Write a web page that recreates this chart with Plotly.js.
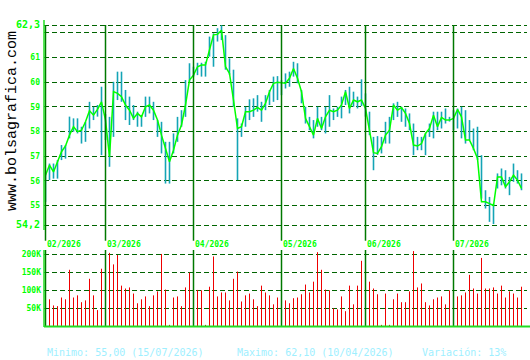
<!DOCTYPE html>
<html>
<head>
<meta charset="utf-8">
<script src="https://cdn.plot.ly/plotly-3.0.1.min.js"></script>
<style>html,body{margin:0;padding:0;background:#fff;}#chart{width:530px;height:360px;}</style>
</head>
<body>
<div id="chart"></div>
<script>
// ---- data (one entry per trading day, index 0 = first session shown) ----
var closes = [
 56.23,56.64,56.36,56.77,57.18,57.41,57.85,58.19,57.99,58.05,
 58.39,58.84,58.66,58.89,59.20,58.46,56.97,59.61,59.54,59.41,
 59.07,58.86,58.53,58.73,58.59,59.00,59.07,58.86,58.46,57.85,
 57.31,56.77,57.24,57.85,58.26,59.07,60.08,60.28,60.62,60.69,
 60.69,61.30,61.91,61.93,62.10,60.62,60.35,59.27,58.12,58.19,
 58.80,58.80,58.86,58.97,58.86,59.14,59.61,59.95,59.99,59.97,
 59.95,60.15,60.55,60.15,59.61,58.53,58.19,57.85,58.53,58.12,
 58.59,58.86,58.80,58.86,59.07,59.61,58.93,59.27,59.20,59.27,
 58.93,58.05,57.14,57.11,57.38,57.85,58.05,59.07,58.86,58.97,
 58.73,58.32,57.45,57.41,57.51,57.92,58.12,58.66,58.19,58.57,
 58.46,58.46,58.53,58.89,58.59,57.65,57.65,57.31,56.91,55.15,
 55.15,55.08,55.00,56.16,56.16,55.76,55.96,56.23,56.03,55.69
];
var highs = [
 56.35,56.70,56.70,56.84,57.45,57.45,58.60,58.53,58.53,58.19,
 58.39,59.20,59.00,59.07,59.81,58.70,58.59,60.01,60.42,60.42,
 59.68,59.41,59.07,58.80,58.66,59.41,59.41,59.20,58.46,58.39,
 57.58,57.58,57.92,58.59,58.86,60.08,60.76,60.62,60.78,60.78,
 60.82,61.84,61.97,62.18,62.30,61.90,60.96,60.50,58.53,58.32,
 59.00,59.30,59.34,59.47,59.20,59.47,59.68,60.22,60.24,60.08,
 60.35,60.42,60.82,60.76,59.68,59.00,58.59,58.46,59.00,58.59,
 59.00,59.47,58.93,59.00,59.41,59.68,59.81,59.61,59.41,60.11,
 59.54,58.80,57.78,57.81,57.78,58.39,58.59,59.14,59.20,59.00,
 58.93,58.73,58.32,57.78,57.78,57.92,58.32,58.80,58.80,58.80,
 58.93,58.59,58.86,58.93,59.00,58.86,58.46,58.12,58.19,57.04,
 55.62,55.35,55.08,56.30,56.50,56.43,56.16,56.70,56.43,56.30
];
var lows = [
 55.15,56.03,56.09,56.09,56.84,56.90,57.72,57.99,57.92,57.51,
 57.58,58.12,58.46,58.60,57.04,57.65,56.57,57.78,59.27,59.20,
 58.46,58.26,58.46,58.19,58.19,58.59,58.73,58.46,57.78,57.11,
 55.89,55.89,57.11,57.58,58.19,58.59,60.01,60.22,60.28,60.22,
 60.22,61.03,60.62,61.64,61.70,60.50,60.30,59.00,56.03,57.78,
 58.19,58.46,58.59,58.80,58.39,58.86,59.07,59.20,59.27,59.47,
 59.74,59.81,60.22,59.95,59.14,58.32,58.05,57.72,58.19,58.05,
 57.92,58.19,58.46,58.59,58.53,59.07,58.73,59.00,58.93,59.03,
 58.60,57.85,56.43,57.05,57.11,57.51,57.51,58.46,58.59,58.39,
 58.19,58.05,57.04,57.24,57.24,57.04,57.78,57.72,58.05,58.12,
 58.32,58.40,58.05,58.12,57.72,57.51,57.65,57.24,56.85,55.28,
 54.88,54.34,54.25,55.69,55.82,55.69,55.42,55.96,55.89,55.62
];
var volumes = [
 69000,75000,58000,56000,80000,75000,157000,80000,86000,67000,
 72000,132000,86000,45000,160000,95000,204000,172000,198000,113000,
 105000,108000,91000,64000,75000,83000,56000,86000,97000,201000,
 102000,4000,80000,83000,56000,108000,149000,69000,101000,100000,
 4000,110000,194000,83000,94000,94000,72000,132000,152000,69000,
 86000,91000,75000,56000,113000,94000,86000,61000,80000,79000,
 72000,64000,78000,80000,89000,116000,94000,124000,206000,157000,
 102000,100000,50000,47000,83000,42000,113000,61000,113000,182000,
 100000,124000,105000,89000,4000,91000,4000,75000,91000,67000,
 67000,97000,209000,108000,119000,67000,58000,75000,80000,83000,
 61000,100000,119000,83000,86000,94000,143000,105000,91000,190000,
 105000,105000,108000,91000,113000,80000,97000,91000,80000,110000
];
var monthLabels = ["02/2026","03/2026","04/2026","05/2026","06/2026","07/2026"];
var monthStarts = [0,15,37,59,80,102];
var priceTicks = [54.2,55,56,57,58,59,60,61,62,62.3];
var priceTickText = ['<span style="font-size:10px">54,2</span>','55','56','57','58','59','60','61','','<span style="font-size:10px">62,3</span>'];
var volTicks = [50000,100000,150000,200000];
var volTickText = ["50K","100K","150K","200K"];
var footer = ["Minimo: 55,00 (15/07/2026)","Maximo: 62,10 (10/04/2026)","Variación: 13%"];
var siteTitle = "www.bolsagrafica.com";

// ---- build: vertical segments (x,x,null) for range bars and volume bars ----
var segX = [], hlY = [], volY = [];
closes.forEach(function(_, i){
  segX.push(i, i, null);
  hlY.push(lows[i], highs[i], null);
  volY.push(0, volumes[i], null);
});
var idx = closes.map(function(_, i){ return i; });

var W = 530, H = 360, L = 44, R = 3;
function py(pix){ return 1 - pix / H; }
function px(pix){ return (pix - L) / (W - L - R); }

var traces = [
  {type:'scatter', mode:'lines', x:segX, y:hlY, xaxis:'x', yaxis:'y', connectgaps:false,
   line:{color:'#14a4b6', width:1.6}, hoverinfo:'skip'},
  {type:'scatter', mode:'lines', x:idx, y:closes, xaxis:'x', yaxis:'y',
   line:{color:'#00ff00', width:1.5}, hoverinfo:'skip'},
  {type:'scatter', mode:'lines', x:segX, y:volY, xaxis:'x', yaxis:'y2', connectgaps:false,
   line:{color:'#ee0000', width:1}, hoverinfo:'skip'}
];

var green = '#00ff00', dark = '#006400';
var shapes = [];
monthStarts.forEach(function(m){
  shapes.push({type:'line', xref:'x', yref:'paper', x0:m, x1:m, y0:py(240.7), y1:py(25),
               line:{color:'#007800', width:1.5}, layer:'above'});
  shapes.push({type:'line', xref:'x', yref:'paper', x0:m, x1:m, y0:py(326), y1:py(250),
               line:{color:'#007800', width:1.5}, layer:'above'});
});
shapes.push({type:'line', xref:'paper', yref:'paper', x0:0, x1:0, y0:py(230), y1:py(20),
             line:{color:'#22dd22', width:1.5}});
shapes.push({type:'line', xref:'paper', yref:'paper', x0:0, x1:0, y0:py(327), y1:py(250),
             line:{color:'#22dd22', width:1.5}});
shapes.push({type:'line', xref:'paper', yref:'paper', x0:0, x1:px(530), y0:py(326.5), y1:py(326.5),
             line:{color:'#22dd22', width:2}});

var annotations = [];
monthStarts.forEach(function(m, k){
  annotations.push({xref:'x', yref:'paper', x:m, y:py(244), xanchor:'left', yanchor:'middle',
    xshift:-1, text:monthLabels[k], showarrow:false,
    font:{family:'DejaVu Sans Mono', size:8, color:green, weight:'bold'}});
});
annotations.push({xref:'paper', yref:'paper', x:px(12), y:py(121), textangle:-90,
  xanchor:'center', yanchor:'middle', text:siteTitle, showarrow:false,
  font:{family:'Liberation Mono', size:15, color:'#000000'}});
var footX = [45, 235, 420];
footer.forEach(function(t, k){
  annotations.push({xref:'paper', yref:'paper', x:px(footX[k]), y:py(352), xanchor:'left',
    yanchor:'middle', text:t, showarrow:false,
    font:{family:'DejaVu Sans Mono', size:10, color:'#9eefff'}});
});

var layout = {
  width:W, height:H, margin:{l:L, r:R, t:0, b:0},
  paper_bgcolor:'#ffffff', plot_bgcolor:'#ffffff',
  showlegend:false,
  font:{family:'DejaVu Sans Mono', color:green},
  xaxis:{range:[-0.375, 120.375], showgrid:false, zeroline:false, showticklabels:false,
         showline:false, ticks:'', fixedrange:true},
  yaxis:{domain:[py(240), py(20)], range:[53.605, 62.512], tickvals:priceTicks, ticktext:priceTickText,
         tickfont:{family:'DejaVu Sans Mono', size:8, color:green, weight:'bold'},
         showgrid:true, gridcolor:dark, griddash:'5px,3px', gridwidth:1,
         zeroline:false, showline:false, ticks:'', ticklabelstandoff:3},
  yaxis2:{domain:[py(326.3), py(250)], range:[0, 212000], anchor:'x', tickvals:volTicks, ticktext:volTickText,
         tickfont:{family:'DejaVu Sans Mono', size:8, color:green, weight:'bold'},
         showgrid:true, gridcolor:dark, griddash:'5px,3px', gridwidth:1,
         zeroline:false, showline:false, ticks:'', ticklabelstandoff:2},
  shapes:shapes, annotations:annotations
};

Plotly.newPlot('chart', traces, layout, {staticPlot:true, displayModeBar:false});
</script>
</body>
</html>
